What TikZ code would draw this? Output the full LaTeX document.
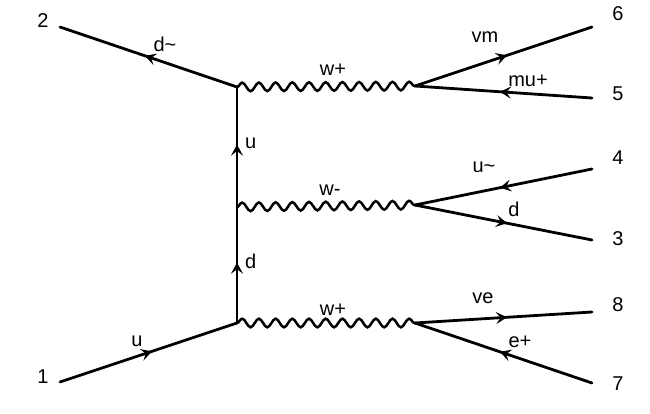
\documentclass[tikz,border=0pt]{standalone}
\usepackage{fontspec}
\setmainfont{Liberation Sans}
\usetikzlibrary{arrows.meta,decorations.markings,decorations.pathmorphing}
\tikzset{
  fermion/.style={line width=2.8pt, line cap=round, postaction={decorate},
    decoration={markings, mark=at position 0.52 with {\arrow{Stealth[length=11pt,width=12pt,inset=4.5pt]}}}},
  boson/.style={line width=2.5pt, decorate,
    decoration={snake, segment length=16.7pt, amplitude=4.3pt}},
  lbl/.style={anchor=base, inner sep=0pt, font=\fontsize{20}{24}\selectfont},
  lblw/.style={lbl, anchor=base west}
}
\begin{document}
\begin{tikzpicture}[x=1pt,y=-1pt]
\useasboundingbox (0,0) rectangle (650,414);
% vertices
\coordinate (v1) at (237,87);
\coordinate (v2) at (237,207);
\coordinate (v3) at (237,323);
\coordinate (r1) at (415,86);
\coordinate (r2) at (415,205);
\coordinate (r3) at (415,323);
% external ends
\coordinate (e1) at (60,382);
\coordinate (e2) at (60,27);
\coordinate (e6) at (592,27);
\coordinate (e5) at (592,98);
\coordinate (e4) at (592,169);
\coordinate (e3) at (592,240);
\coordinate (e8) at (592,312);
\coordinate (e7) at (592,383);
% bosons
\draw[boson] (v1) -- (r1);
\draw[boson] (v2) -- (r2);
\draw[boson] (v3) -- (r3);
% fermions
\draw[fermion] (e1) -- (v3);
\draw[fermion] (v3) -- (v2);
\draw[fermion] (v2) -- (v1);
\draw[fermion] (v1) -- (e2);
\draw[fermion] (r1) -- (e6);
\draw[fermion] (e5) -- (r1);
\draw[fermion] (e4) -- (r2);
\draw[fermion] (r2) -- (e3);
\draw[fermion] (r3) -- (e8);
\draw[fermion] (e7) -- (r3);
% numbers
\node[lbl] (n2) at (43,28) {2};
\node[lbl] (n1) at (43,383) {1};
\node[lbl] (n6) at (618,21) {6};
\node[lbl] (n5) at (618,101) {5};
\node[lbl] (n4) at (618,165) {4};
\node[lbl] (n3) at (618,245) {3};
\node[lbl] (n8) at (618,311) {8};
\node[lbl] (n7) at (618,390) {7};
% particle labels
\node[lbl] (ldt) at (165,52) {d\textasciitilde};
\node[lbl] (lu1) at (137,346) {u};
\node[lblw] (luv) at (245,149) {u};
\node[lblw] (ldv) at (245,268) {d};
\node[lbl] (lw1) at (333,76) {w+};
\node[lbl] (lw2) at (330,196) {w-};
\node[lbl] (lw3) at (333,315) {w+};
\node[lbl] (lvm) at (485,43) {vm};
\node[lbl] (lmu) at (528,87) {mu+};
\node[lbl] (lut) at (484,172) {u\textasciitilde};
\node[lbl] (ld3) at (514,216) {d};
\node[lbl] (lve) at (483,303) {ve};
\node[lbl] (lep) at (520,347) {e+};
\end{tikzpicture}
\end{document}
